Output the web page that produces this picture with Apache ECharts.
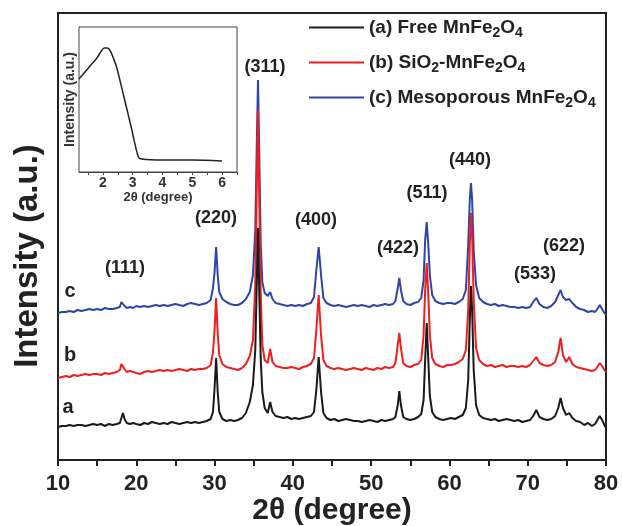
<!DOCTYPE html>
<html>
<head>
<meta charset="utf-8">
<script src="https://cdn.jsdelivr.net/npm/echarts@6/dist/echarts.min.js"></script>
<style>
html,body{margin:0;padding:0;background:#fff;}
#chart{width:622px;height:526px;}
</style>
</head>
<body>
<div id="chart"></div>
<script>
// ---------- data ----------
const twoTheta = [
  10, 10.5, 11, 11.5, 12, 12.5, 13, 13.5, 14, 14.5,
  15, 15.5, 16, 16.5, 17, 17.5, 17.9, 18.1, 18.3, 18.5,
  18.8, 19.2, 19.6, 20, 20.5, 21, 21.5, 22, 22.5, 23,
  23.5, 24, 24.5, 25, 25.5, 26, 26.5, 27, 27.5, 28,
  28.5, 29, 29.5, 29.8, 30.0, 30.2, 30.4, 30.6, 31.0, 31.5,
  32, 32.5, 33, 33.5, 34, 34.5, 34.9, 35.2, 35.4, 35.55,
  35.7, 35.9, 36.1, 36.4, 36.8, 37.1, 37.4, 37.8, 38.3, 38.8,
  39.3, 39.8, 40.3, 40.8, 41.3, 41.8, 42.3, 42.7, 43.0, 43.3,
  43.6, 43.9, 44.3, 44.8, 45.3, 45.8, 46.3, 46.8, 47.3, 47.8,
  48.3, 48.8, 49.3, 49.8, 50.3, 50.8, 51.3, 51.8, 52.3, 52.8,
  53.1, 53.4, 53.6, 53.8, 54.1, 54.5, 55.0, 55.5, 56.0, 56.4,
  56.7, 56.9, 57.1, 57.3, 57.5, 57.8, 58.2, 58.7, 59.2, 59.7,
  60.2, 60.7, 61.2, 61.7, 62.1, 62.4, 62.6, 62.75, 62.9, 63.1,
  63.4, 63.8, 64.3, 64.8, 65.3, 65.8, 66.3, 66.8, 67.3, 67.8,
  68.3, 68.8, 69.3, 69.8, 70.3, 70.7, 71.1, 71.5, 72.0, 72.5,
  73.0, 73.5, 73.9, 74.2, 74.5, 74.9, 75.3, 75.7, 76.2, 76.7,
  77.2, 77.7, 78.2, 78.6, 78.9, 79.2, 79.5, 79.8, 80
];
// (a) Free MnFe2O4 (offset trace, arbitrary units)
const freeMnFe2O4 = [
  33, 34, 34, 35, 34, 35, 35, 34, 35, 36,
  35, 36, 34, 36, 35, 36, 37, 42, 47, 41,
  37, 36, 37, 36, 35, 37, 36, 38, 37, 36,
  37, 36, 38, 37, 36, 37, 38, 37, 38, 37,
  38, 39, 41, 48, 72, 102, 68, 48, 41, 39,
  40, 39, 40, 42, 47, 58, 75, 110, 180, 232,
  170, 100, 68, 52, 47, 58, 48, 44, 43, 42,
  43, 41, 42, 41, 42, 43, 44, 48, 70, 103,
  68, 47, 42, 40, 41, 39, 40, 41, 40, 39,
  39, 38, 39, 40, 39, 38, 40, 39, 40, 41,
  43, 55, 69, 55, 43, 41, 40, 41, 43, 46,
  60, 100, 137, 100, 64, 48, 43, 41, 40, 41,
  42, 41, 43, 45, 52, 80, 140, 174, 150, 90,
  55, 45, 42, 41, 40, 41, 39, 40, 41, 40,
  39, 40, 38, 39, 40, 44, 50, 43, 41, 40,
  41, 44, 52, 62, 52, 45, 47, 42, 39, 38,
  35, 37, 34, 36, 40, 44, 40, 35, 32
];
// (b) SiO2-MnFe2O4
const sio2MnFe2O4 = [
  82, 83, 84, 83, 85, 84, 85, 86, 85, 86,
  86, 85, 87, 86, 87, 88, 90, 96, 98, 91,
  88, 89, 88, 87, 86, 88, 89, 88, 89, 90,
  89, 90, 89, 90, 91, 90, 89, 91, 90, 91,
  91, 92, 95, 108, 130, 162, 127, 105, 96, 93,
  92, 91, 90, 92, 96, 104, 120, 175, 275, 350,
  265, 165, 115, 100, 97, 111, 98, 94, 93, 92,
  92, 93, 92, 91, 93, 94, 96, 102, 130, 165,
  125, 100, 94, 92, 91, 92, 91, 90, 91, 92,
  91, 90, 92, 91, 90, 92, 91, 93, 92, 93,
  97, 115, 127, 112, 97, 94, 93, 95, 96, 100,
  125, 170, 197, 165, 125, 102, 96, 94, 93, 95,
  95, 96, 98, 101, 110, 150, 215, 247, 225, 160,
  112, 100, 96, 94, 95, 93, 94, 95, 93, 94,
  94, 93, 94, 93, 95, 99, 103, 97, 95, 94,
  95, 98, 108, 122, 105, 98, 103, 96, 93, 92,
  91, 90, 89, 90, 93, 97, 94, 90, 88
];
// (c) Mesoporous MnFe2O4
const mesoMnFe2O4 = [
  147, 148, 148, 149, 148, 150, 149, 150, 151, 150,
  151, 150, 152, 151, 151, 152, 153, 158, 160, 154,
  152, 153, 152, 154, 153, 154, 153, 154, 155, 154,
  155, 154, 155, 156, 155, 154, 156, 157, 156, 155,
  156, 157, 160, 172, 188, 213, 185, 168, 161, 158,
  156, 155, 155, 157, 161, 168, 185, 230, 320, 380,
  310, 215, 178, 167, 164, 168, 161, 157, 156, 155,
  154, 155, 154, 155, 154, 156, 157, 163, 190, 213,
  185, 162, 157, 155, 154, 155, 154, 153, 154, 155,
  154, 155, 154, 153, 155, 154, 155, 156, 155, 156,
  159, 172, 182, 170, 159, 156, 155, 157, 158, 162,
  180, 220, 238, 215, 185, 165, 159, 157, 156, 157,
  157, 156, 158, 161, 170, 215, 260, 277, 260, 210,
  175, 162, 158, 156, 155, 156, 154, 155, 154, 153,
  153, 152, 153, 152, 153, 158, 162, 156, 153, 152,
  154, 158, 165, 170, 163, 160, 161, 157, 153, 151,
  150, 148, 149, 148, 151, 155, 151, 147, 145
];
// inset: low-angle pattern
const insetTwoTheta = [1.2, 1.4, 1.6, 1.8, 1.95, 2.05, 2.15, 2.25, 2.35, 2.46, 2.7, 2.95, 3.19, 3.3, 4, 5, 6];
const insetIntensity = [93, 100, 107, 114, 121, 124, 124, 121, 114, 105, 76, 45, 15, 13, 12, 12, 11];

const xTicksMain = [10, 20, 30, 40, 50, 60, 70, 80];
const xTicksInset = [2, 3, 4, 5, 6];
const seriesNames = ['(a) Free MnFe2O4', '(b) SiO2-MnFe2O4', '(c) Mesoporous MnFe2O4'];
const traceLetters = ['a', 'b', 'c'];
const peakNames = ['(111)', '(220)', '(311)', '(400)', '(422)', '(511)', '(440)', '(533)', '(622)'];

// ---------- chart ----------
const FONT = '"Liberation Sans", Arial, sans-serif';
const pairs = (xs, ys) => xs.map((x, i) => [x, ys[i]]);

const legendRich = {
  n: {fontSize: 19, fontWeight: 'bold', fontFamily: FONT, color: '#222', lineHeight: 24},
  s: {fontSize: 14, fontWeight: 'bold', fontFamily: FONT, color: '#222', padding: [11, 0, 0, 0]}
};
const legendFormat = {
  '(a) Free MnFe2O4': '{n|(a) Free MnFe}{s|2}{n|O}{s|4}',
  '(b) SiO2-MnFe2O4': '{n|(b) SiO}{s|2}{n|-MnFe}{s|2}{n|O}{s|4}',
  '(c) Mesoporous MnFe2O4': '{n|(c) Mesoporous MnFe}{s|2}{n|O}{s|4}'
};

const peakPos = [[125, 268], [216, 218], [265, 67], [316, 220], [398, 248], [427, 193], [470, 160], [535, 274], [564, 246]];
const letterPos = [[68, 407], [70, 355], [70, 291]];

const graphics = [];
peakNames.forEach((t, i) => graphics.push({
  type: 'text', x: peakPos[i][0], y: peakPos[i][1], z: 100,
  style: {text: t, font: 'bold 18px ' + FONT, fill: '#222', align: 'center', verticalAlign: 'middle'}
}));
traceLetters.forEach((t, i) => graphics.push({
  type: 'text', x: letterPos[i][0], y: letterPos[i][1], z: 100,
  style: {text: t, font: 'bold 20px ' + FONT, fill: '#222', align: 'center', verticalAlign: 'middle'}
}));
graphics.push({
  type: 'text', x: 28, y: 256, rotation: Math.PI / 2, z: 100,
  style: {text: 'Intensity (a.u.)', font: 'bold 33px ' + FONT, fill: '#222', align: 'center', verticalAlign: 'middle'}
});

const chart = echarts.init(document.getElementById('chart'), null, {renderer: 'canvas'});
chart.setOption({
  animation: false,
  backgroundColor: '#fff',
  grid: [
    {left: 58, right: 16, top: 13, bottom: 66, show: true, borderColor: '#222', borderWidth: 2, backgroundColor: '#fff',
      containLabel: false, outerBoundsMode: 'none'},
    {left: 79, top: 27, width: 158, height: 145, show: true, borderColor: '#444', borderWidth: 1, backgroundColor: '#fff', z: 10,
      containLabel: false, outerBoundsMode: 'none'}
  ],
  legend: {
    data: seriesNames,
    orient: 'vertical', left: 304, top: 13, itemGap: 13,
    icon: 'rect', itemWidth: 55, itemHeight: 2,
    formatter: n => legendFormat[n],
    textStyle: {rich: legendRich}
  },
  xAxis: [
    {
      type: 'value', gridIndex: 0, min: 10, max: 80, interval: 10,
      name: '2θ (degree)', nameLocation: 'middle', nameGap: 36, nameMoveOverlap: false,
      nameTextStyle: {fontSize: 30, fontWeight: 'bold', fontFamily: FONT, color: '#222', verticalAlign: 'top'},
      axisLine: {show: true, lineStyle: {color: '#222', width: 2}},
      axisTick: {show: true, length: 6, lineStyle: {color: '#222', width: 2}},
      minorTick: {show: true, splitNumber: 2, length: 6, lineStyle: {color: '#222', width: 2}},
      axisLabel: {fontSize: 22, fontWeight: 'bold', fontFamily: FONT, color: '#222', margin: 13,
        customValues: xTicksMain},
      splitLine: {show: false}
    },
    {
      type: 'value', gridIndex: 1, min: 1.2, max: 6.5,
      name: '2θ (degree)', nameLocation: 'middle', nameGap: 17,
      nameTextStyle: {fontSize: 13, fontFamily: FONT, color: '#333', fontWeight: 'bold'},
      axisLine: {show: true, lineStyle: {color: '#444', width: 1}},
      axisTick: {show: true, length: 3, lineStyle: {color: '#444'}, customValues: [1.5, 2, 2.5, 3, 3.5, 4, 4.5, 5, 5.5, 6, 6.5]},
      axisLabel: {fontSize: 14, fontWeight: 'bold', fontFamily: FONT, color: '#333', margin: 4, customValues: xTicksInset},
      splitLine: {show: false}
    }
  ],
  yAxis: [
    {
      type: 'value', gridIndex: 0, min: 0, max: 447,
      axisLine: {show: true, lineStyle: {color: '#222', width: 2}},
      axisTick: {show: false}, axisLabel: {show: false}, splitLine: {show: false}
    },
    {
      type: 'value', gridIndex: 1, min: 0, max: 145,
      name: 'Intensity (a.u.)', nameLocation: 'middle', nameGap: 2, nameRotate: 90,
      nameTextStyle: {fontSize: 14, fontFamily: FONT, color: '#333', fontWeight: 'bold'},
      axisLine: {show: true, lineStyle: {color: '#444', width: 1}},
      axisTick: {show: false}, axisLabel: {show: false}, splitLine: {show: false}
    }
  ],
  series: [
    {name: seriesNames[2], type: 'line', xAxisIndex: 0, yAxisIndex: 0, data: pairs(twoTheta, mesoMnFe2O4),
      showSymbol: false, symbol: 'none', lineStyle: {color: '#2d46a6', width: 2}, itemStyle: {color: '#2d46a6'}, z: 2},
    {name: seriesNames[1], type: 'line', xAxisIndex: 0, yAxisIndex: 0, data: pairs(twoTheta, sio2MnFe2O4),
      showSymbol: false, symbol: 'none', lineStyle: {color: '#f01e1e', width: 2}, itemStyle: {color: '#f01e1e'}, z: 3},
    {name: seriesNames[0], type: 'line', xAxisIndex: 0, yAxisIndex: 0, data: pairs(twoTheta, freeMnFe2O4),
      showSymbol: false, symbol: 'none', lineStyle: {color: '#1a1a1a', width: 2}, itemStyle: {color: '#1a1a1a'}, z: 4},
    {name: 'inset', type: 'line', xAxisIndex: 1, yAxisIndex: 1, data: pairs(insetTwoTheta, insetIntensity),
      showSymbol: false, symbol: 'none', smooth: 0.3, lineStyle: {color: '#222', width: 1.5}, z: 20}
  ],
  graphic: graphics
});
</script>
</body>
</html>
